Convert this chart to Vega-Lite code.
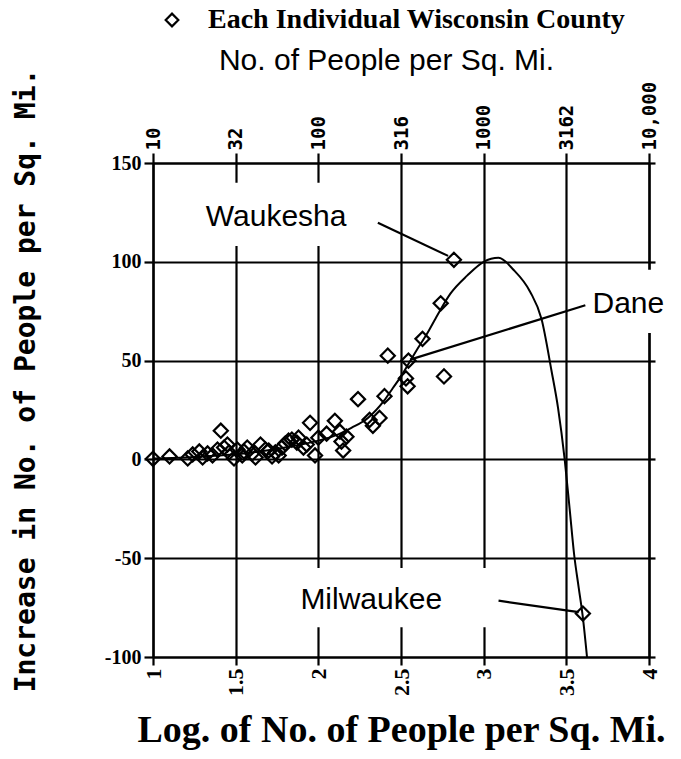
{
  "$schema": "https://vega.github.io/schema/vega-lite/v6.json",
  "width": 496,
  "height": 494,
  "autosize": {"type": "none"},
  "padding": {"left": 153, "top": 163, "right": 32, "bottom": 102},
  "background": "white",
  "config": {
    "view": {"stroke": null},
    "axis": {
      "domainColor": "black", "domainWidth": 2.2,
      "tickColor": "black", "tickWidth": 2.2,
      "gridColor": "black", "gridWidth": 2.2, "gridOpacity": 1,
      "labelColor": "black", "titleColor": "black"
    }
  },
  "datasets": {
    "counties": [
      {"logd": 1.00, "inc": 0.3}, {"logd": 1.10, "inc": 1.5}, {"logd": 1.21, "inc": 0.5},
      {"logd": 1.24, "inc": 2.5}, {"logd": 1.28, "inc": 4}, {"logd": 1.30, "inc": 1},
      {"logd": 1.33, "inc": 3}, {"logd": 1.36, "inc": 2}, {"logd": 1.39, "inc": 5},
      {"logd": 1.41, "inc": 14.5}, {"logd": 1.43, "inc": 6}, {"logd": 1.45, "inc": 7.5},
      {"logd": 1.46, "inc": 3.5}, {"logd": 1.49, "inc": 0.5}, {"logd": 1.51, "inc": 5},
      {"logd": 1.54, "inc": 2}, {"logd": 1.55, "inc": 4}, {"logd": 1.57, "inc": 6},
      {"logd": 1.60, "inc": 3}, {"logd": 1.62, "inc": 1}, {"logd": 1.65, "inc": 7.5},
      {"logd": 1.68, "inc": 5}, {"logd": 1.70, "inc": 4.5}, {"logd": 1.72, "inc": 1.5},
      {"logd": 1.74, "inc": 3.5}, {"logd": 1.76, "inc": 2}, {"logd": 1.78, "inc": 6},
      {"logd": 1.80, "inc": 8}, {"logd": 1.82, "inc": 9.5}, {"logd": 1.84, "inc": 10},
      {"logd": 1.87, "inc": 8.5}, {"logd": 1.88, "inc": 11}, {"logd": 1.91, "inc": 6},
      {"logd": 1.93, "inc": 7.5}, {"logd": 1.95, "inc": 18.5}, {"logd": 1.98, "inc": 2},
      {"logd": 2.00, "inc": 11}, {"logd": 2.05, "inc": 13}, {"logd": 2.10, "inc": 19.5},
      {"logd": 2.13, "inc": 14}, {"logd": 2.14, "inc": 9}, {"logd": 2.15, "inc": 4.5},
      {"logd": 2.17, "inc": 11.5}, {"logd": 2.24, "inc": 30.5}, {"logd": 2.31, "inc": 20},
      {"logd": 2.33, "inc": 17}, {"logd": 2.37, "inc": 21}, {"logd": 2.40, "inc": 32},
      {"logd": 2.42, "inc": 52.5}, {"logd": 2.53, "inc": 41}, {"logd": 2.54, "inc": 37},
      {"logd": 2.545, "inc": 50}, {"logd": 2.63, "inc": 61}, {"logd": 2.74, "inc": 79},
      {"logd": 2.76, "inc": 42}, {"logd": 2.82, "inc": 101}, {"logd": 3.60, "inc": -78}
    ],
    "curve": [
      {"logd": 1.0, "inc": 0.5}, {"logd": 1.2, "inc": 1}, {"logd": 1.4, "inc": 2},
      {"logd": 1.6, "inc": 3.5}, {"logd": 1.8, "inc": 6}, {"logd": 2.0, "inc": 9.5},
      {"logd": 2.1, "inc": 12}, {"logd": 2.2, "inc": 16}, {"logd": 2.3, "inc": 21},
      {"logd": 2.4, "inc": 30}, {"logd": 2.45, "inc": 36}, {"logd": 2.5, "inc": 42},
      {"logd": 2.55, "inc": 49}, {"logd": 2.6, "inc": 56}, {"logd": 2.66, "inc": 64},
      {"logd": 2.72, "inc": 73}, {"logd": 2.8, "inc": 84}, {"logd": 2.9, "inc": 93},
      {"logd": 3.0, "inc": 100}, {"logd": 3.09, "inc": 102}, {"logd": 3.18, "inc": 96},
      {"logd": 3.28, "inc": 85}, {"logd": 3.35, "inc": 71}, {"logd": 3.41, "inc": 45},
      {"logd": 3.45, "inc": 26}, {"logd": 3.49, "inc": 0}, {"logd": 3.52, "inc": -25},
      {"logd": 3.547, "inc": -48}, {"logd": 3.575, "inc": -65}, {"logd": 3.6, "inc": -80},
      {"logd": 3.625, "inc": -100}
    ],
    "boxes": [
      {"x": 1.27, "x2": 2.33, "y": 108, "y2": 140},
      {"x": 3.6, "x2": 4.2, "y": 64, "y2": 96},
      {"x": 1.8, "x2": 3.06, "y": -85, "y2": -55}
    ],
    "leaders": [
      {"x": 2.36, "y": 119.8, "x2": 2.785, "y2": 103},
      {"x": 3.615, "y": 78, "x2": 2.555, "y2": 50.5},
      {"x": 3.09, "y": -71.5, "x2": 3.575, "y2": -77.3}
    ],
    "labels": [
      {"x": 1.745, "y": 122.5, "name": "Waukesha"},
      {"x": 3.875, "y": 78.5, "name": "Dane"},
      {"x": 2.32, "y": -71, "name": "Milwaukee"}
    ]
  },
  "resolve": {"axis": {"x": "independent", "y": "independent"}},
  "layer": [
    {
      "data": {"name": "curve"},
      "mark": {"type": "line", "color": "black", "strokeWidth": 2, "interpolate": "monotone"},
      "encoding": {
        "x": {
          "field": "logd", "type": "quantitative",
          "scale": {"domain": [1, 4], "nice": false, "zero": false},
          "axis": {
            "orient": "top", "values": [1, 1.5, 2, 2.5, 3, 3.5, 4],
            "labelExpr": "datum.value == 1 ? '10' : datum.value == 1.5 ? '32' : datum.value == 2 ? '100' : datum.value == 2.5 ? '316' : datum.value == 3 ? '1000' : datum.value == 3.5 ? '3162' : '10,000'",
            "labelAngle": -90, "labelFont": "DejaVu Sans Mono", "labelFontWeight": "bold", "labelFontSize": 19,
            "labelPadding": 3, "tickSize": 10, "grid": false, "labelOverlap": false, "labelBound": false,
            "title": "No. of People per Sq. Mi.", "titleFont": "Liberation Sans", "titleFontWeight": "normal",
            "titleFontSize": 30, "titlePadding": 6, "titleX": 233
          }
        },
        "y": {
          "field": "inc", "type": "quantitative",
          "scale": {"domain": [-100, 150], "nice": false, "zero": false},
          "axis": {"orient": "right", "labels": false, "tickSize": 6, "grid": false, "title": null, "values": [-100, -50, 0, 50, 100, 150]}
        }
      }
    },
    {
      "data": {"name": "counties"},
      "mark": {"type": "point", "shape": "diamond", "filled": false, "stroke": "black", "strokeWidth": 2.2, "size": 200, "opacity": 1},
      "encoding": {
        "x": {
          "field": "logd", "type": "quantitative",
          "scale": {"domain": [1, 4], "nice": false, "zero": false},
          "axis": {
            "orient": "bottom", "values": [1, 1.5, 2, 2.5, 3, 3.5, 4], "labelExpr": "'' + datum.value",
            "labelAngle": -90, "labelFont": "Liberation Serif", "labelFontWeight": "bold", "labelFontSize": 22,
            "labelPadding": 3, "tickSize": 8, "grid": true, "labelOverlap": false, "labelBound": false,
            "title": "Log. of No. of People per Sq. Mi.", "titleFont": "Liberation Serif", "titleFontWeight": "bold",
            "titleFontSize": 38, "titlePadding": 16
          }
        },
        "y": {
          "field": "inc", "type": "quantitative",
          "scale": {"domain": [-100, 150], "nice": false, "zero": false},
          "axis": {
            "orient": "left", "values": [-100, -50, 0, 50, 100, 150], "labelExpr": "'' + datum.value",
            "labelFont": "Liberation Serif", "labelFontWeight": "bold", "labelFontSize": 20, "labelPadding": 3,
            "tickSize": 9, "grid": true,
            "title": "Increase in No. of People per Sq. Mi.", "titleFont": "DejaVu Sans Mono", "titleFontWeight": "bold",
            "titleFontSize": 28, "titlePadding": 64, "titleY": 217
          }
        },
        "shape": {
          "datum": "Each Individual Wisconsin County",
          "scale": {"range": ["diamond"]},
          "legend": {
            "title": null, "orient": "none", "legendX": 5, "legendY": -157,
            "labelFont": "Liberation Serif", "labelFontWeight": "bold", "labelFontSize": 28, "labelColor": "black",
            "labelOffset": 22, "symbolSize": 160, "symbolStrokeWidth": 2.2, "symbolStrokeColor": "black",
            "symbolType": "diamond", "labelLimit": 600
          }
        }
      }
    },
    {
      "data": {"name": "boxes"},
      "mark": {"type": "rect", "color": "white", "clip": false},
      "encoding": {
        "x": {"field": "x", "type": "quantitative", "scale": {"domain": [1, 4], "nice": false, "zero": false}, "axis": null},
        "x2": {"field": "x2"},
        "y": {"field": "y", "type": "quantitative", "scale": {"domain": [-100, 150], "nice": false, "zero": false}, "axis": null},
        "y2": {"field": "y2"}
      }
    },
    {
      "data": {"name": "leaders"},
      "mark": {"type": "rule", "color": "black", "strokeWidth": 2.2},
      "encoding": {
        "x": {"field": "x", "type": "quantitative", "scale": {"domain": [1, 4], "nice": false, "zero": false}, "axis": null},
        "x2": {"field": "x2"},
        "y": {"field": "y", "type": "quantitative", "scale": {"domain": [-100, 150], "nice": false, "zero": false}, "axis": null},
        "y2": {"field": "y2"}
      }
    },
    {
      "data": {"name": "labels"},
      "mark": {"type": "text", "font": "Liberation Sans", "fontSize": 30, "color": "black", "align": "center", "baseline": "middle"},
      "encoding": {
        "x": {"field": "x", "type": "quantitative", "scale": {"domain": [1, 4], "nice": false, "zero": false}, "axis": null},
        "y": {"field": "y", "type": "quantitative", "scale": {"domain": [-100, 150], "nice": false, "zero": false}, "axis": null},
        "text": {"field": "name"}
      }
    }
  ]
}
